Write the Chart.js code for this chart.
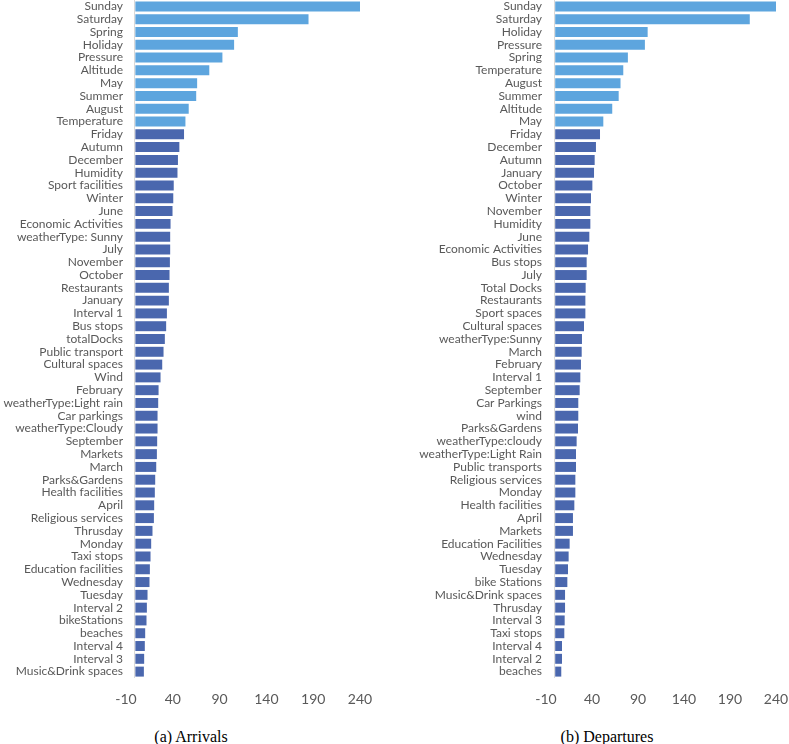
<!DOCTYPE html>
<html>
<head>
<meta charset="utf-8">
<script src="https://cdn.jsdelivr.net/npm/chart.js@4.4.1/dist/chart.umd.min.js"></script>
<style>
  body { margin: 0; background: #fff; width: 789px; height: 744px; overflow: hidden; position: relative; }
  .chartBox { position: absolute; top: 0; height: 720px; }
  .caption { position: absolute; top: 727px; font-family: 'Liberation Serif', 'Times New Roman', serif; font-size: 16px; line-height: 19px; color: #000; transform: translateX(-50%); white-space: nowrap; }
</style>
</head>
<body>
<div class="chartBox" style="left:0;width:380px"><canvas id="arrivalsChart"></canvas></div>
<div class="chartBox" style="left:400px;width:389px"><canvas id="departuresChart"></canvas></div>
<div class="caption" style="left:191px">(a) Arrivals</div>
<div class="caption" style="left:607px">(b) Departures</div>
<script>
const xTicks = [-10, 40, 90, 140, 190, 240];

const arrivalLabels = [
  'Sunday', 'Saturday', 'Spring', 'Holiday', 'Pressure', 'Altitude', 'May', 'Summer', 'August', 'Temperature',
  'Friday', 'Autumn', 'December', 'Humidity', 'Sport facilities', 'Winter', 'June', 'Economic Activities',
  'weatherType: Sunny', 'July', 'November', 'October', 'Restaurants', 'January', 'Interval 1', 'Bus stops',
  'totalDocks', 'Public transport', 'Cultural spaces', 'Wind', 'February', 'weatherType:Light rain',
  'Car parkings', 'weatherType:Cloudy', 'September', 'Markets', 'March', 'Parks&Gardens', 'Health facilities',
  'April', 'Religious services', 'Thrusday', 'Monday', 'Taxi stops', 'Education facilities', 'Wednesday',
  'Tuesday', 'Interval 2', 'bikeStations', 'beaches', 'Interval 4', 'Interval 3', 'Music&Drink spaces',
];
const arrivalValues = [
  240, 185, 109.5, 105.5, 93, 79, 66, 65, 57, 53.5,
  52, 47, 45.5, 45, 41, 40.5, 39.7, 37.6,
  37.2, 37.2, 36.9, 36.5, 35.8, 35.8, 33.7, 32.9,
  31.5, 30.1, 28.7, 26.9, 24.8, 24.4,
  23.7, 23.7, 23.3, 23, 22.3, 21.2, 20.8,
  20.1, 19.8, 18.3, 16.9, 16.2, 15.5, 15.1,
  13, 12.3, 11.9, 10.5, 10.1, 9.4, 9.1,
];

const departureLabels = [
  'Sunday', 'Saturday', 'Holiday', 'Pressure', 'Spring', 'Temperature', 'August', 'Summer', 'Altitude', 'May',
  'Friday', 'December', 'Autumn', 'January', 'October', 'Winter', 'November', 'Humidity', 'June',
  'Economic Activities', 'Bus stops', 'July', 'Total Docks', 'Restaurants', 'Sport spaces', 'Cultural spaces',
  'weatherType:Sunny', 'March', 'February', 'Interval 1', 'September', 'Car Parkings', 'wind', 'Parks&Gardens',
  'weatherType:cloudy', 'weatherType:Light Rain', 'Public transports', 'Religious services', 'Monday',
  'Health facilities', 'April', 'Markets', 'Education Facilities', 'Wednesday', 'Tuesday', 'bike Stations',
  'Music&Drink spaces', 'Thrusday', 'Interval 3', 'Taxi stops', 'Interval 4', 'Interval 2', 'beaches',
];
const departureValues = [
  241, 211.5, 100.5, 97.5, 79, 74, 71, 69, 62, 52.3,
  48.7, 44.3, 42.9, 42.2, 40.4, 38.9, 38.2, 38.2, 37.1,
  35.7, 34.2, 34.2, 33.1, 32.8, 32.8, 31.3,
  29.1, 28.8, 28, 27.3, 26.6, 25.1, 25.1, 24.8,
  23.3, 22.6, 22.6, 21.9, 21.9,
  20.8, 19.3, 19.3, 15.7, 14.6, 13.9, 13.2,
  10.7, 10.7, 10.3, 9.9, 7.4, 7.4, 6.6,
];

const TOP_COUNT = 10;
const LIGHT = '#5DA5DE';
const DARK = '#4A67AE';
const TEXT = '#595959';

// vertical axis line sits at 0, not at the -10 edge
const zeroLine = {
  id: 'zeroLine',
  beforeDatasetsDraw(chart) {
    const { ctx, chartArea, scales } = chart;
    const x = Math.round(scales.x.getPixelForValue(0)) - 0.5;
    ctx.save();
    ctx.strokeStyle = '#D9D9D9';
    ctx.lineWidth = 1;
    ctx.beginPath();
    ctx.moveTo(x, chartArea.top);
    ctx.lineTo(x, chartArea.bottom);
    ctx.stroke();
    ctx.restore();
  },
};

function barChart(canvas, labels, values, labelWidth, labelPad, rightPad) {
  const colors = values.map((v, i) => (i < TOP_COUNT ? LIGHT : DARK));

  const config = {
    type: 'bar',
    data: {
      labels: labels,
      datasets: [
        {
          data: values,
          backgroundColor: colors,
          borderWidth: 0,
          categoryPercentage: 1,
          barPercentage: 0.78,
        },
      ],
    },
    options: {
      indexAxis: 'y',
      responsive: true,
      maintainAspectRatio: false,
      animation: false,
      layout: { padding: { top: 0, bottom: 2, left: 0, right: rightPad } },
      scales: {
        x: {
          min: xTicks[0],
          max: xTicks[xTicks.length - 1],
          afterBuildTicks: (scale) => {
            scale.ticks = xTicks.map((v) => ({ value: v }));
          },
          afterFit: (scale) => {
            scale.height = 40;
            scale.paddingLeft = 0;
            scale.paddingRight = 0;
          },
          grid: { display: false, drawTicks: false },
          border: { display: false },
          ticks: {
            color: TEXT,
            padding: 13,
            maxRotation: 0,
            font: { family: 'Lato', size: 14 },
          },
        },
        y: {
          afterFit: (scale) => {
            scale.width = labelWidth;
            scale.paddingTop = 0;
            scale.paddingBottom = 0;
          },
          grid: { display: false, drawTicks: false },
          border: { display: false },
          ticks: {
            autoSkip: false,
            color: TEXT,
            padding: labelPad,
            font: { family: 'Lato', size: 12 },
          },
        },
      },
      plugins: {
        legend: { display: false },
        tooltip: { enabled: false },
      },
    },
    plugins: [zeroLine],
  };

  return new Chart(canvas, config);
}

barChart(document.querySelector('#arrivalsChart'), arrivalLabels, arrivalValues, 126, 3, 20);
barChart(document.querySelector('#departuresChart'), departureLabels, departureValues, 146, 4, 13);
</script>
</body>
</html>
